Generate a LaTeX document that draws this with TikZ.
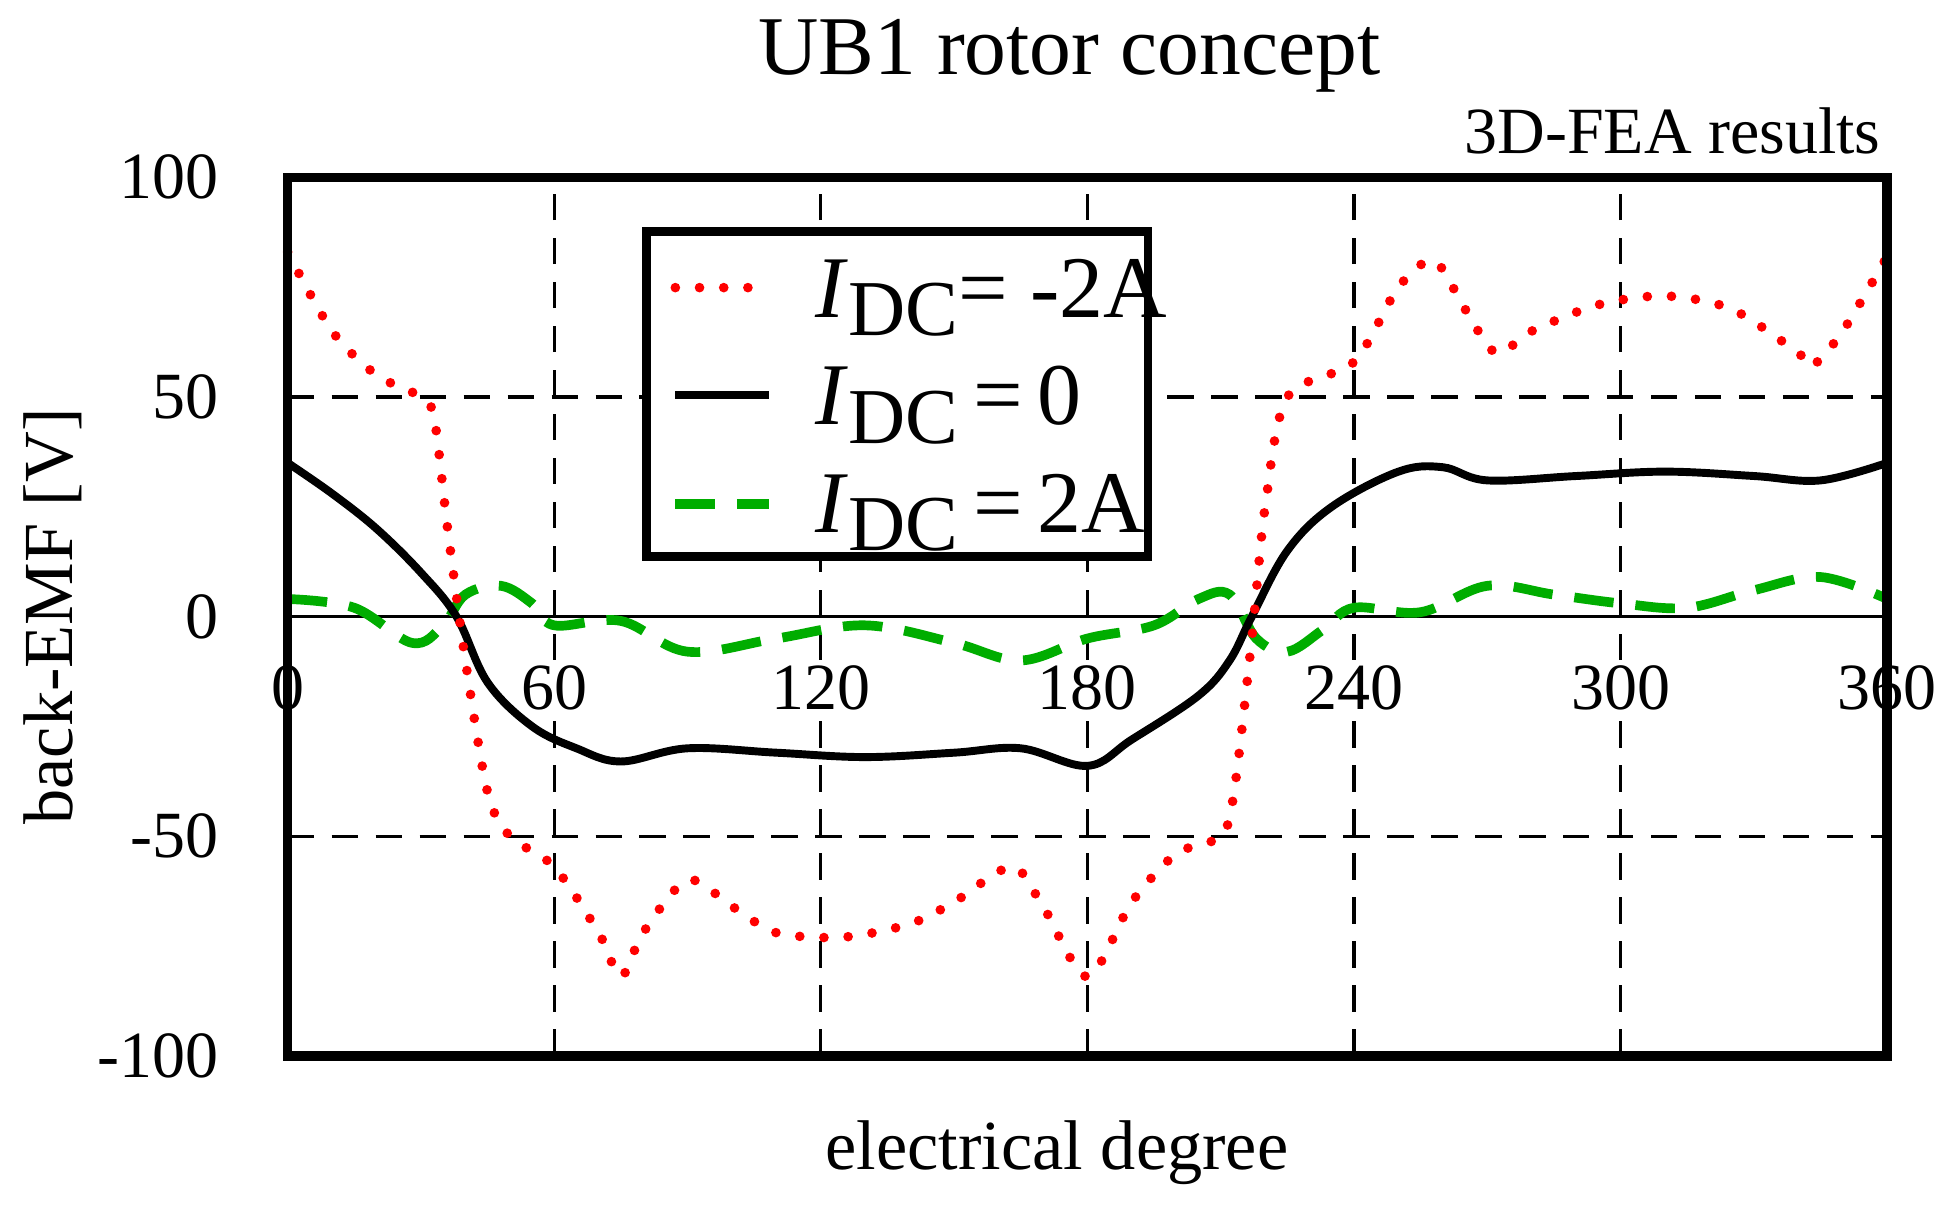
\documentclass[tikz,border=0pt]{standalone}
\usepackage{fontspec}
\setmainfont{Liberation Serif}
\newcommand{\idc}{\textit{I}\raisebox{-0.45ex}{\fontsize{18}{18}\selectfont DC}}
\begin{document}
\begin{tikzpicture}[x=0.01cm,y=-0.01cm,
  grid/.style={black,dash pattern=on 6pt off 4pt,line width=0.7pt},
  red curve/.style={red,line width=2.2pt,dash pattern=on 0pt off 5.5pt,line cap=round},
  black curve/.style={black,line width=1.8pt},
  green curve/.style={green!60!black!80!green,line width=2.2pt,dash pattern=on 9pt off 5pt},
  tick/.style={font=\fontsize{15}{15}\selectfont},
  leg/.style={anchor=west,font=\fontsize{20}{20}\selectfont}]
\useasboundingbox (0,0) rectangle (1560,965);
\node (title) at (855,45) {\fontsize{19}{19}\selectfont UB1 rotor concept};
\node[anchor=east,tick] (fea) at (1516,105) {3D-FEA results};
\node (xl) at (845,922) {\fontsize{16}{16}\selectfont electrical degree};
\node[rotate=90] (yl) at (42,493) {\fontsize{16}{16}\selectfont back-EMF [V]};
\begin{scope}[shift={(230,493)},x=0.0355cm,y=0.0351cm]
  \foreach \g in {60,120,180,240,300} \draw[grid] (\g,-100) -- (\g,100);
  \foreach \g in {-50,50} \draw[grid] (0,\g) -- (360,\g);
  \draw[line width=0.7pt] (0,0) -- (360,0);
  \foreach \v/\l in {100/100,50/50,0/0,-50/-50,-100/-100}
    \node[tick,anchor=east] (yt\l) at (-12,\v) {\l};
  \foreach \v in {0,60,120,180,240,300,360}
    \node[tick,anchor=north,fill=white,inner sep=1pt] (xt\v) at (\v,-10) {\v};
  \draw[green curve] plot[smooth,tension=0.6] coordinates {(0,4)(15,2)(28,-6)(35,-2)(40,5)(48,7)(55,3)(60,-2)(75,-1)(90,-8)(110,-5)(130,-2)(150,-6)(165,-10)(180,-5)(195,-2)(205,4)(212,5)(218,-5)(225,-8)(233,-3)(240,2)(255,1)(270,7)(285,5)(300,3)(315,2)(330,6)(345,9)(360,4)};
  \draw[black curve] plot[smooth,tension=0.6] coordinates {(0,35)(10,28)(20,20)(30,10)(38,0)(45,-15)(55,-25)(65,-30)(75,-33)(90,-30)(110,-31)(130,-32)(150,-31)(165,-30)(180,-34)(190,-28)(205,-18)(212,-10)(217,0)(225,15)(235,25)(250,33)(260,34)(270,31)(290,32)(310,33)(330,32)(345,31)(360,35)};
  \draw[red curve] plot[smooth,tension=0.5] coordinates {(0,83)(10,65)(20,55)(30,50)(33,45)(36,20)(40,-10)(45,-40)(50,-50)(60,-57)(70,-72)(75,-82)(80,-72)(90,-60)(100,-66)(110,-72)(125,-73)(140,-70)(150,-65)(163,-57)(170,-66)(180,-82)(190,-65)(200,-54)(210,-50)(213,-40)(217,-5)(220,25)(225,50)(240,58)(250,75)(258,81)(265,70)(272,60)(280,65)(295,71)(310,73)(325,70)(340,60)(343,57)(350,65)(360,82)};
  \draw[line width=2.2pt] (0,-100) rectangle (360,100);
\end{scope}
\draw[line width=2pt,fill=white] (517,185) rectangle (918,445);
\draw[red curve] (540,230) -- (615,230);
\draw[black curve] (540,316) -- (615,316);
\draw[green curve] (540,403) -- (615,403);
\node[leg] (l1) at (640,238) {\idc= -2A};
\node[leg] (l2) at (640,324) {\idc\,=\,0};
\node[leg] (l3) at (640,410) {\idc\,=\,2A};
\end{tikzpicture}
\end{document}
